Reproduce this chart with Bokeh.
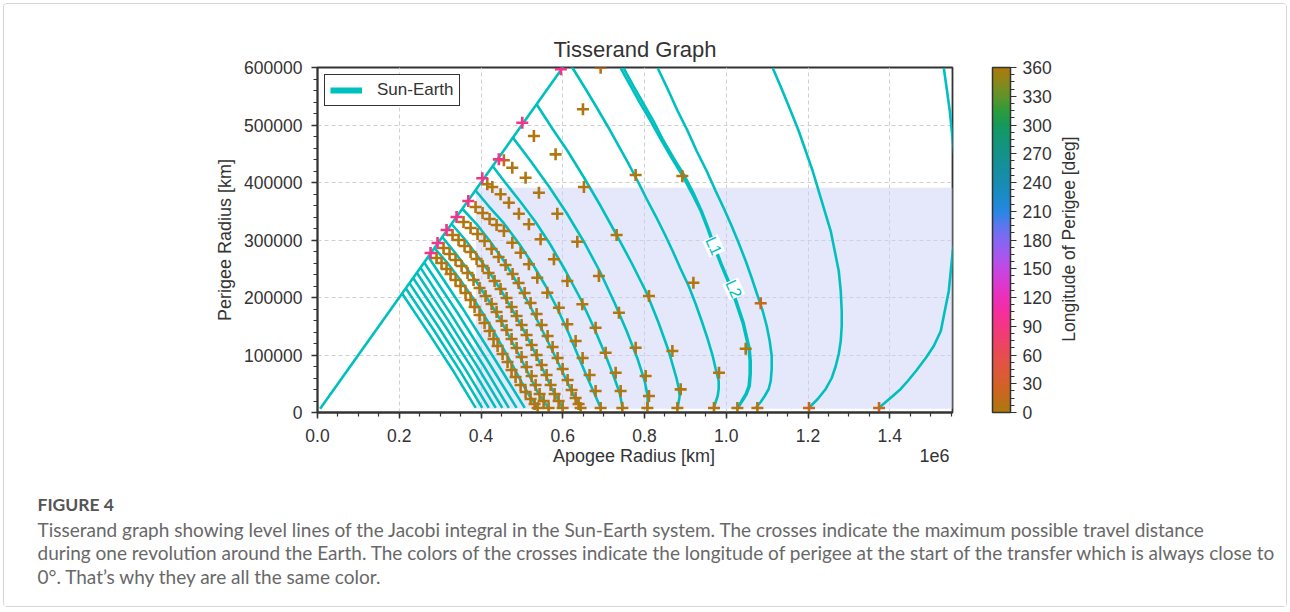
import math
from bokeh.plotting import figure
from bokeh.layouts import column, row
from bokeh.models import (ColumnDataSource, FixedTicker, LinearColorMapper, ColorBar,
                          Label, Legend, LegendItem, Range1d)
from bokeh.core.properties import value
from bokeh.embed import file_html
from bokeh.resources import INLINE

# ---------------------------------------------------------------- data
# all radii below are in thousands of km (apogee radius, perigee radius)
x_ticks = [0, 200000, 400000, 600000, 800000, 1000000, 1200000, 1400000]
x_tick_labels = ["0.0", "0.2", "0.4", "0.6", "0.8", "1.0", "1.2", "1.4"]
y_ticks = [0, 100000, 200000, 300000, 400000, 500000, 600000]
y_tick_labels = ["0", "100000", "200000", "300000", "400000", "500000", "600000"]
cbar_ticks = [0, 30, 60, 90, 120, 150, 180, 210, 240, 270, 300, 330, 360]

region_ra = [388, 1700]
region_rp = [6.4, 391]

diagonal = [(6.4, 6.4), (700, 700)]

plain_1 = [(207, 207), (272, 138), (335, 69), (387, 8)]
plain_2 = [(216, 216), (284, 144), (349, 72), (403, 8)]
plain_3 = [(225, 225), (295, 150), (362, 75), (419, 8)]
plain_4 = [(234, 234), (307, 156), (377, 78), (436, 8)]
plain_5 = [(243, 243), (318, 162), (390, 81), (452, 8)]
plain_6 = [(252, 252), (329, 168), (404, 84), (468, 8)]
plain_7 = [(261, 261), (342, 174), (419, 87), (487, 8)]
plain_8 = [(271, 271), (355, 181), (436, 90), (507, 8)]

line_b2 = [(285.9, 286.1), (318.2, 260.0), (347.6, 232.2), (376.9, 202.6), (403.9, 173.0), (430.8, 141.7),
           (455.3, 110.4), (479.7, 79.1), (499.3, 53.0), (518.9, 28.7), (531.1, 16.5), (538.5, 7.8)]
line_b3 = [(305.0, 305.2), (335.3, 279.1), (364.7, 251.3), (394.1, 221.7), (421.0, 192.2), (447.9, 160.9),
           (472.4, 127.8), (496.9, 94.8), (518.9, 63.5), (538.5, 35.7), (553.2, 20.0), (565.4, 7.8)]
line_b4 = [(328.0, 327.8), (359.8, 301.7), (391.6, 272.2), (423.4, 240.9), (452.8, 207.8), (479.7, 174.8),
           (506.7, 140.0), (531.1, 105.2), (553.2, 72.2), (572.7, 42.6), (587.4, 23.5), (599.7, 7.8)]
line_b5 = [(354.9, 353.9), (389.2, 327.8), (423.4, 296.5), (457.7, 261.7), (487.1, 227.0), (516.4, 190.4),
           (543.4, 152.2), (570.3, 113.9), (594.8, 77.4), (616.8, 44.3), (631.5, 23.5), (643.7, 7.8)]
line_b6 = [(386.7, 386.1), (418.5, 359.1), (455.3, 329.6), (492.0, 294.8), (526.2, 258.3), (558.1, 220.0),
           (587.4, 180.0), (614.3, 138.3), (638.8, 96.5), (658.4, 63.5), (678.0, 32.2), (692.7, 7.8)]
line_b7 = [(428.3, 428.7), (460.1, 399.1), (496.9, 366.1), (533.6, 331.3), (570.3, 291.3), (607.0, 246.1),
           (643.7, 197.4), (675.5, 148.7), (702.5, 103.5), (724.5, 63.5), (739.2, 33.9), (746.5, 7.8)]
line_b8 = [(478.0, 478.0), (521.3, 437.4), (565.4, 393.9), (609.5, 346.9), (653.5, 294.8), (692.7, 242.6),
           (726.9, 190.4), (756.3, 141.7), (783.2, 93.0), (800.4, 54.8), (807.7, 28.7), (807.7, 7.8)]
line_b9 = [(536.0, 536.0), (575.2, 493.0), (611.9, 454.8), (651.1, 409.6), (692.7, 359.1), (731.8, 308.7),
           (768.5, 260.0), (805.3, 207.8), (820.0, 181.7), (834.6, 155.6), (846.9, 131.3), (859.1, 107.0),
           (868.9, 82.6), (878.7, 58.3), (883.6, 42.6), (886.0, 28.7), (883.6, 18.3), (881.1, 7.8)]
line_o1 = [(612.0, 612.0), (624.1, 599.1), (655.9, 562.6), (685.3, 527.8), (712.3, 494.8), (736.7, 463.5),
           (761.2, 432.2), (783.2, 402.6), (805.3, 371.3), (827.3, 341.7), (849.3, 310.4), (868.9, 280.9),
           (888.5, 249.6), (908.1, 220.0), (925.2, 188.7), (939.9, 159.1), (954.6, 127.8), (966.8, 98.3),
           (974.1, 75.7), (981.5, 54.8), (981.5, 40.9), (979.0, 28.7), (974.1, 18.3), (969.2, 7.8)]
line_l1 = [(741.6, 599.1), (766.1, 567.8), (790.6, 536.5), (815.1, 506.9), (839.5, 475.6), (866.5, 442.6),
           (893.4, 411.3), (915.4, 381.7), (937.4, 350.4), (954.6, 319.1), (969.2, 289.6), (986.3, 258.3),
           (1003.5, 228.7), (1018.2, 202.6), (1030.4, 176.5), (1040.2, 155.6), (1047.6, 133.0),
           (1054.9, 110.4), (1057.4, 89.6), (1057.4, 67.0), (1054.9, 46.1), (1047.6, 32.2), (1040.2, 23.5),
           (1028.0, 7.8)]
line_l2 = [(749.0, 599.1), (773.0, 567.8), (797.9, 536.5), (821.9, 506.9), (844.4, 475.6), (871.0, 442.6),
           (898.3, 411.3), (919.9, 381.7), (939.9, 350.4), (956.8, 319.1), (971.7, 289.6), (988.5, 258.3),
           (1006.0, 228.7), (1020.7, 202.6), (1032.9, 176.5), (1042.7, 155.6), (1050.0, 133.0),
           (1057.4, 110.4), (1059.8, 89.6), (1059.8, 67.0), (1057.4, 46.1), (1050.0, 32.2), (1042.7, 23.5),
           (1028.0, 7.8)]
line_o3 = [(832.2, 599.1), (856.7, 562.6), (881.1, 524.3), (905.6, 489.6), (927.6, 454.8), (952.1, 420.0),
           (974.1, 385.2), (993.7, 355.6), (1013.3, 324.3), (1030.4, 294.8), (1047.6, 263.5), (1062.3, 233.9),
           (1076.9, 202.6), (1089.2, 176.5), (1099.0, 150.4), (1106.3, 124.3), (1111.2, 98.3),
           (1111.2, 75.7), (1108.8, 54.8), (1103.9, 40.9), (1094.1, 28.7), (1084.3, 18.3), (1072.0, 7.8)]
line_o4 = [(1113.7, 599.1), (1135.7, 562.6), (1157.7, 524.3), (1177.3, 489.6), (1194.4, 454.8),
           (1211.5, 420.0), (1226.2, 385.2), (1240.9, 350.4), (1255.6, 315.6), (1265.4, 280.9),
           (1275.2, 246.1), (1280.1, 211.3), (1282.5, 176.5), (1282.5, 150.4), (1280.1, 124.3),
           (1275.2, 101.7), (1267.9, 80.9), (1258.1, 60.0), (1243.4, 40.9), (1223.8, 23.5), (1201.8, 7.8)]
line_o5 = [(1532.2, 599.1), (1539.5, 562.6), (1546.9, 524.3), (1551.8, 489.6), (1556.7, 454.8),
           (1564.0, 411.3), (1568.9, 367.8), (1566.5, 324.3), (1554.2, 280.9), (1549.3, 246.1),
           (1544.4, 211.3), (1534.6, 176.5), (1524.9, 141.7), (1507.7, 115.7), (1488.1, 94.8),
           (1466.1, 73.9), (1444.1, 54.8), (1426.9, 40.9), (1407.4, 28.7), (1390.2, 18.3), (1373.1, 7.8)]

# crosses: (apogee, perigee) in 1000 km, and longitude of perigee [deg]
cross_277 = [(276.6, 277.4), (291.3, 268.7), (303.5, 260.0), (315.7, 249.6), (325.5, 240.9), (337.8, 230.4),
             (350.0, 220.0), (362.2, 207.8), (374.5, 195.6), (384.3, 183.5), (396.5, 169.6), (408.7, 155.6),
             (421.0, 141.7), (430.8, 127.8), (440.6, 115.7), (452.8, 101.7), (465.0, 87.8), (474.8, 73.9),
             (484.6, 61.7), (496.9, 47.8), (509.1, 35.7), (521.3, 23.5), (531.1, 14.8), (538.5, 7.8)]
lon_277 = [92, 3, 3, 3, 3, 3, 3, 3, 3, 3, 3, 3, 3, 3, 3, 3, 3, 3, 3, 3, 3, 3, 3, 3]
cross_294 = [(293.7, 294.8), (308.4, 286.1), (323.1, 275.6), (337.8, 265.2), (352.5, 254.8), (367.1, 242.6),
             (381.8, 230.4), (396.5, 216.5), (411.2, 202.6), (425.9, 188.7), (438.1, 174.8), (450.4, 159.1),
             (462.6, 143.5), (474.8, 127.8), (487.1, 112.2), (499.3, 96.5), (511.5, 79.1), (523.8, 63.5),
             (533.6, 47.8), (543.4, 32.2), (553.2, 20.0), (565.4, 7.8)]
lon_294 = [92, 3, 3, 3, 3, 3, 3, 3, 3, 3, 3, 3, 3, 3, 3, 3, 3, 3, 3, 3, 3, 3]
cross_316 = [(315.7, 317.4), (330.4, 308.7), (345.1, 300.0), (359.8, 289.6), (374.5, 279.1), (389.2, 266.9),
             (403.9, 254.8), (418.5, 242.6), (433.2, 228.7), (447.9, 214.8), (462.6, 199.1), (474.8, 183.5),
             (487.1, 167.8), (499.3, 152.2), (511.5, 134.8), (523.8, 117.4), (536.0, 100.0), (548.3, 82.6),
             (560.5, 65.2), (570.3, 47.8), (580.1, 32.2), (589.9, 20.0), (599.7, 7.8)]
lon_316 = [92, 3, 3, 3, 3, 3, 3, 3, 3, 3, 3, 3, 3, 3, 3, 3, 3, 3, 3, 3, 3, 3, 3]
cross_340 = [(340.2, 340.0), (357.3, 331.3), (374.5, 320.9), (391.6, 310.4), (408.7, 298.3), (425.9, 284.3),
             (443.0, 270.4), (460.1, 256.5), (477.3, 240.9), (492.0, 225.2), (506.7, 207.8), (521.3, 190.4),
             (536.0, 171.3), (548.3, 152.2), (563.0, 133.0), (575.2, 113.9), (587.4, 94.8), (599.7, 75.7),
             (611.9, 56.5), (621.7, 39.1), (631.5, 25.2), (638.8, 14.8), (643.7, 7.8)]
lon_340 = [92, 3, 3, 3, 3, 3, 3, 3, 3, 3, 3, 3, 3, 3, 3, 3, 3, 3, 3, 3, 3, 3, 3]
cross_370 = [(368.9, 367.8), (386.7, 357.4), (403.9, 346.9), (421.0, 336.5), (438.1, 326.1), (456.0, 315.6),
             (476.5, 295.3), (496.9, 277.9), (517.2, 257.7), (537.7, 234.4), (562.2, 208.3), (590.6, 182.3),
             (611.2, 153.4), (631.5, 124.3), (648.6, 94.8), (665.7, 65.2), (680.4, 37.4), (692.7, 7.8)]
lon_370 = [92, 3, 3, 3, 3, 3, 3, 3, 3, 3, 3, 3, 3, 3, 3, 3, 3, 3]
cross_404 = [(403.1, 407.3), (415.4, 396.9), (427.6, 392.2), (447.9, 379.5), (468.2, 364.9), (492.7, 345.7),
             (517.2, 327.3), (545.8, 301.2), (578.4, 266.4), (611.2, 228.7), (647.9, 188.2), (680.4, 147.5),
             (704.9, 104.0), (729.4, 69.2), (741.6, 37.4), (745.8, 7.8)]
lon_404 = [92, 3, 3, 3, 3, 3, 3, 3, 3, 3, 3, 3, 3, 3, 3, 3]
cross_443 = [(443.7, 440.3), (456.0, 438.6), (476.5, 425.7), (509.1, 408.3), (541.7, 382.3), (586.7, 345.7),
             (635.6, 297.0), (688.5, 237.4), (737.5, 173.6), (778.3, 112.7), (802.8, 63.5), (810.9, 28.7),
             (807.0, 7.8)]
lon_443 = [92, 15, 3, 3, 3, 3, 3, 3, 3, 3, 3, 3, 3]
cross_502 = [(501.0, 504.0), (529.4, 480.9), (582.5, 449.0), (651.8, 392.2), (731.8, 308.7), (810.9, 202.6),
             (868.2, 107.0), (888.5, 40.3), (880.4, 7.8)]
lon_502 = [92, 3, 3, 3, 3, 3, 3, 3, 3]
cross_595 = [(595.5, 596.9), (649.4, 527.3), (778.3, 413.0), (919.6, 225.7), (982.2, 69.2), (970.0, 7.8)]
lon_595 = [92, 3, 3, 3, 3, 3]
cross_far1 = [(692.7, 599.6), (892.6, 411.3), (1047.6, 111.0), (1027.3, 7.8)]
lon_far1 = [15, 3, 3, 3]
cross_far2 = [(1084.3, 189.9), (1076.2, 7.8)]
lon_far2 = [22, 8]
cross_far3 = [(1202.5, 7.8)]
lon_far3 = [22]
cross_far4 = [(1373.8, 7.8)]
lon_far4 = [22]

contour_labels = ["L1", "L2"]
contour_label_pos = [(969.2, 289.6), (1018.2, 214.8)]

x_axis_title = "Apogee Radius [km]"
x_offset_text = "1e6"
y_axis_title = "Perigee Radius [km]"
cbar_title = "Longitude of Perigee [deg]"
caption_title = "FIGURE 4"
caption_lines = [
    "Tisserand graph showing level lines of the Jacobi integral in the Sun-Earth system. The crosses indicate the maximum possible travel distance",
    "during one revolution around the Earth. The colors of the crosses indicate the longitude of perigee at the start of the transfer which is always close to",
    "0\u00b0. That\u2019s why they are all the same color.",
]

# ---------------------------------------------------------------- style
KM = 1000.0
TEAL = "#00bfbf"
INK = "#333333"
FONT = "Liberation Sans"
CAP_FONT = "Lato"

phase_stops = ["#ad780c", "#c26b1a", "#d4612a", "#df573c", "#e84c52", "#ef406a", "#f53584", "#f52e9e",
               "#ec2fb9", "#db39d1", "#c348e4", "#a558ef", "#8467f3", "#5b77ef", "#2787e4", "#1b8bca",
               "#178cb1", "#158f9d", "#13928a", "#129676", "#14995c", "#2c9c3c", "#5e942a", "#88891a",
               "#ad780c"]


def hex2rgb(h):
    return tuple(int(h[i:i + 2], 16) for i in (1, 3, 5))


palette = []
nseg = len(phase_stops) - 1
for k in range(256):
    t = k / 255 * nseg
    i = min(int(t), nseg - 1)
    f = t - i
    a, b = hex2rgb(phase_stops[i]), hex2rgb(phase_stops[i + 1])
    palette.append("#%02x%02x%02x" % tuple(round(a[j] + (b[j] - a[j]) * f) for j in range(3)))

mapper = LinearColorMapper(palette=palette, low=0, high=360)


def no_align(fig):
    if "frame_align" in fig.properties():
        fig.frame_align = False


# page layout: content origin at (4, 4) (3px margin + 1px border)
OX, OY = 4, 4
FRAME_L, FRAME_T, FRAME_W, FRAME_H = 317, 67, 635, 345
P_W, P_H = 1052, 441
SIDE_W = 230
CAP_W, CAP_H = P_W + SIDE_W, 161

# ---------------------------------------------------------------- main figure
p = figure(width=P_W, height=P_H, output_backend="svg", toolbar_location=None,
           x_range=Range1d(0, 1553.5 * KM), y_range=Range1d(0, 600 * KM),
           min_border_left=FRAME_L - OX, min_border_right=P_W - (FRAME_L - OX) - FRAME_W,
           min_border_top=FRAME_T - OY, min_border_bottom=P_H - (FRAME_T - OY) - FRAME_H,
           title="Tisserand Graph")
no_align(p)
p.background_fill_color = "white"
p.border_fill_color = "white"
p.outline_line_color = INK
p.outline_line_width = 1.8
p.title.align = "center"
p.title.text_font = FONT
p.title.text_font_size = "22px"
p.title.text_font_style = "normal"
p.title.text_color = INK
p.title.standoff = 12

for ax in (p.xaxis[0], p.yaxis[0]):
    ax.axis_line_color = INK
    ax.axis_line_width = 1.8
    ax.major_tick_line_color = INK
    ax.minor_tick_line_color = INK
    ax.major_tick_line_width = 1.5
    ax.minor_tick_line_width = 1.2
    ax.major_tick_in = 0
    ax.major_tick_out = 6
    ax.minor_tick_in = 0
    ax.minor_tick_out = 4
    ax.major_label_text_font = FONT
    ax.major_label_text_font_size = "17.5px"
    ax.major_label_text_color = INK
    ax.axis_label_text_font = FONT
    ax.axis_label_text_font_size = "18px"
    ax.axis_label_text_font_style = "normal"
    ax.axis_label_text_color = INK

p.xaxis.ticker = FixedTicker(ticks=x_ticks, minor_ticks=list(range(0, 1550001, 50000)))
p.xaxis.major_label_overrides = dict(zip(x_ticks, x_tick_labels))
p.yaxis.ticker = FixedTicker(ticks=y_ticks, minor_ticks=list(range(0, 600001, 20000)))
p.yaxis.major_label_overrides = dict(zip(y_ticks, y_tick_labels))
p.yaxis.axis_label = y_axis_title
p.xaxis.major_label_standoff = 10
p.yaxis.major_label_standoff = 9
p.yaxis.axis_label_standoff = 6

p.grid.grid_line_color = "#cfcfcf"
p.grid.grid_line_dash = "4 3"
p.grid.grid_line_width = 1

# shaded region
p.quad(left=[region_ra[0] * KM], right=[region_ra[1] * KM],
       bottom=[region_rp[0] * KM], top=[region_rp[1] * KM],
       fill_color="#cbcff5", fill_alpha=0.5, line_color=None)

# level lines
curves = [diagonal, plain_1, plain_2, plain_3, plain_4, plain_5, plain_6, plain_7, plain_8,
          line_b2, line_b3, line_b4, line_b5, line_b6, line_b7, line_b8, line_b9,
          line_o1, line_l1, line_l2, line_o3, line_o4, line_o5]
p.multi_line(xs=[[a * KM for a, b in c] for c in curves],
             ys=[[b * KM for a, b in c] for c in curves],
             line_color=TEAL, line_width=2.6)

# crosses
series = [(cross_277, lon_277), (cross_294, lon_294), (cross_316, lon_316), (cross_340, lon_340),
          (cross_370, lon_370), (cross_404, lon_404), (cross_443, lon_443), (cross_502, lon_502),
          (cross_595, lon_595), (cross_far1, lon_far1), (cross_far2, lon_far2), (cross_far3, lon_far3),
          (cross_far4, lon_far4)]
low = dict(x=[], y=[], lon=[])
high = dict(x=[], y=[], lon=[])
for pts, lons in series:
    for (a, b), l in zip(pts, lons):
        d = high if l > 60 else low
        d["x"].append(a * KM)
        d["y"].append(b * KM)
        d["lon"].append(l)
for d in (low, high):
    p.scatter("x", "y", source=ColumnDataSource(d), marker="cross", size=12,
              line_width=2.6, line_color={"field": "lon", "transform": mapper})

# inline contour labels
for txt, (a, b) in zip(contour_labels, contour_label_pos):
    p.add_layout(Label(x=a * KM, y=b * KM, text=txt, angle=-1.15, text_align="center",
                       text_baseline="middle", text_color=TEAL, text_font=FONT,
                       text_font_size="16px", background_fill_color="white",
                       background_fill_alpha=1.0))

# legend
leg_r = p.line(x=[math.nan], y=[math.nan], line_color=TEAL, line_width=6)
legend = Legend(items=[LegendItem(label="Sun-Earth", renderers=[leg_r])], location="top_left",
                margin=7, padding=5, spacing=0, glyph_width=32, glyph_height=18,
                label_standoff=15, label_height=18,
                label_text_font=FONT, label_text_font_size="17px", label_text_color=INK,
                border_line_color=INK, border_line_width=1.5, border_line_alpha=1,
                background_fill_color="white", background_fill_alpha=1)
p.add_layout(legend)

# color bar (position relative to the plot frame)
cbar = ColorBar(color_mapper=mapper,
                ticker=FixedTicker(ticks=cbar_ticks, minor_ticks=[k * 7.5 for k in range(49)]),
                location=(675, 0), width=18, height=FRAME_H, padding=0, margin=0,
                bar_line_color=INK, bar_line_width=1.5,
                major_tick_in=0, major_tick_out=6, minor_tick_in=0, minor_tick_out=4,
                major_tick_line_color=INK, minor_tick_line_color=INK,
                major_label_text_font=FONT, major_label_text_font_size="17.5px",
                major_label_text_color=INK, label_standoff=6,
                background_fill_alpha=0, border_line_color=None)
p.add_layout(cbar, "center")


def text_strip(w, h, flip):
    f = figure(width=w, height=h, output_backend="svg", toolbar_location=None,
               x_range=Range1d(0, w), y_range=Range1d(h, 0) if flip else Range1d(0, h),
               min_border_left=0, min_border_right=0, min_border_top=0, min_border_bottom=0)
    no_align(f)
    f.axis.visible = False
    f.grid.visible = False
    f.outline_line_color = None
    f.background_fill_color = "white"
    f.border_fill_color = "white"
    return f


# ---------------------------------------------------------------- colour-bar label strip
side = text_strip(SIDE_W, P_H, flip=False)
side.text(x=[1068 - (OX + P_W)], y=[OY + P_H - 238.5], text=[cbar_title], angle=math.pi / 2,
          text_align="center", text_baseline="middle", text_font=value(FONT),
          text_font_size="17.5px", text_color=INK)

# ---------------------------------------------------------------- caption strip
cap = text_strip(CAP_W, CAP_H, flip=True)
top = OY + P_H
cap.text(x=[633.5 - OX, 934 - OX], y=[455 - top, 455 - top], text=[x_axis_title, x_offset_text],
         text_align="center", text_baseline="middle", text_font=value(FONT),
         text_font_size="18px", text_color=INK)
cap.text(x=[37 - OX], y=[504 - top], text=[caption_title], text_align="left", text_baseline="middle",
         text_font=value(CAP_FONT), text_font_size="17.5px", text_font_style="bold", text_color="#555555")
cap.text(x=[37 - OX] * 3, y=[528.5 - top, 552 - top, 576 - top], text=caption_lines,
         text_align="left", text_baseline="middle",
         text_font=value(CAP_FONT), text_font_size="19px", text_color="#686868")

layout = column(row(p, side, spacing=0), cap, spacing=0,
                styles={"margin": "3px", "border": "1px solid #d5d5d5", "border-radius": "4px"})
open("out.html", "w").write(file_html(layout, INLINE, title="Tisserand Graph"))
